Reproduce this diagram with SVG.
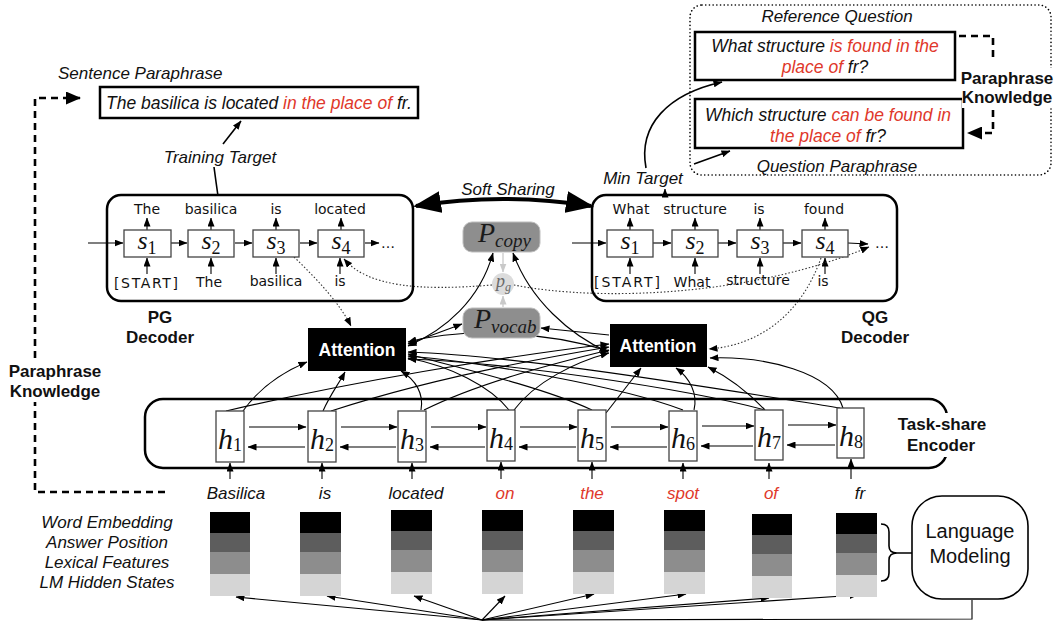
<svg xmlns="http://www.w3.org/2000/svg" width="1056" height="626" viewBox="0 0 1056 626">
<defs>
<marker id="ah" markerUnits="userSpaceOnUse" markerWidth="9" markerHeight="7" refX="8.5" refY="3.5" orient="auto-start-reverse"><path d="M0,0 L9,3.5 L0,7 z" fill="#000"/></marker>
<marker id="ahg" markerUnits="userSpaceOnUse" markerWidth="9" markerHeight="7" refX="8.5" refY="3.5" orient="auto-start-reverse"><path d="M0,0 L9,3.5 L0,7 z" fill="#c9c9c9"/></marker>
<marker id="ahb" markerUnits="userSpaceOnUse" markerWidth="28" markerHeight="22" refX="25" refY="11" orient="auto-start-reverse"><path d="M0,0 L28,11 L0,22 z" fill="#000"/></marker>
<marker id="ahd" markerUnits="userSpaceOnUse" markerWidth="15" markerHeight="13" refX="14" refY="6.5" orient="auto-start-reverse"><path d="M0,0 L15,6.5 L0,13 z" fill="#000"/></marker>
</defs>
<style>
.it{font-family:"Liberation Sans",Arial,sans-serif;font-style:italic;font-size:17px;fill:#111}
.bd{font-family:"Liberation Sans",Arial,sans-serif;font-weight:bold;font-size:17px;fill:#111;text-anchor:middle}
.red{fill:#e0382b}
.cw{font-family:"DejaVu Sans",sans-serif;font-size:14px;fill:#111;text-anchor:middle}
.m{font-family:"Liberation Serif",serif;font-style:italic;font-size:26px;fill:#111;text-anchor:middle}
.sub{font-style:normal;font-size:18px}
.cell{fill:#fff;stroke:#444;stroke-width:1.3}
.ln{fill:none;stroke:#000;stroke-width:1.1}
.arr{marker-end:url(#ah)}
.dot{fill:none;stroke:#333;stroke-width:1.1;stroke-dasharray:1.5,2}
.dash{fill:none;stroke:#000;stroke-width:2.6;stroke-dasharray:7,5}
.frame{fill:none;stroke:#000;stroke-width:2.5}
.att{fill:#000}
.attt{font-family:"Liberation Sans",Arial,sans-serif;font-weight:bold;font-size:17.5px;fill:#fff;text-anchor:middle}
.gp{fill:#8e8e8e;stroke:#bdbdbd;stroke-width:1}
.c1{fill:#000}.c2{fill:#5d5d5d}.c3{fill:#8d8d8d}.c4{fill:#d5d5d5}
</style>
<rect width="1056" height="626" fill="#fff"/>

<!-- connectors -->
<g id="connectors">
  <path class="dash" d="M165,492 L35,492 L35,98 L80,98" marker-end="url(#ahd)"/>
  <path class="dash" d="M959,36 L993,36 L993,62"/>
  <path class="dash" d="M993,110 L993,133 L968,133" marker-end="url(#ahd)"/>
  <path class="ln" style="stroke-width:1.6" d="M223,144 L241,121" marker-end="url(#ah)"/>
  <path class="ln" style="stroke-width:1.6" d="M214,167 Q216,182 218,196"/>
  <path class="ln" style="stroke-width:1.6" d="M646,168 C638,125 668,94 722,82" marker-end="url(#ah)"/>
  <path class="ln" style="stroke-width:1.6" d="M694,164 L730,151" marker-end="url(#ah)"/>
  <path class="ln" d="M665,195 L665,189" marker-end="url(#ah)"/>
  <path fill="none" stroke="#000" stroke-width="4" d="M416,206 Q503,192 591,206" marker-start="url(#ahb)" marker-end="url(#ahb)"/>

  <path class="ln arr" d="M88,243 L123,243"/>
  <path class="ln arr" d="M171,243 L187,243"/>
  <path class="ln arr" d="M235,243 L252,243"/>
  <path class="ln arr" d="M300,243 L317,243"/>
  <path class="ln arr" d="M365,243 L379,243"/>
  <path class="ln arr" d="M147,230 L147,218"/>
  <path class="ln arr" d="M211,230 L211,218"/>
  <path class="ln arr" d="M276,230 L276,218"/>
  <path class="ln arr" d="M341,230 L341,218"/>
  <path class="ln arr" d="M147,274 L147,258"/>
  <path class="ln arr" d="M211,274 L211,258"/>
  <path class="ln arr" d="M276,274 L276,258"/>
  <path class="ln arr" d="M340,274 L340,258"/>
  <path class="ln arr" d="M572,243 L606,243"/>
  <path class="ln arr" d="M653,243 L671,243"/>
  <path class="ln arr" d="M718,243 L736,243"/>
  <path class="ln arr" d="M783,243 L801,243"/>
  <path class="ln arr" d="M848,243 L868,244"/>
  <path class="ln arr" d="M630,230 L630,218"/>
  <path class="ln arr" d="M695,230 L695,218"/>
  <path class="ln arr" d="M760,230 L760,218"/>
  <path class="ln arr" d="M825,230 L825,218"/>
  <path class="ln arr" d="M630,274 L630,258"/>
  <path class="ln arr" d="M695,274 L695,258"/>
  <path class="ln arr" d="M760,274 L760,258"/>
  <path class="ln arr" d="M825,274 L825,258"/>

  <path class="dot" d="M294,257 C318,280 340,304 351,326" marker-end="url(#ah)"/>
  <path class="dot" d="M821,258 C802,312 762,345 709,349" marker-end="url(#ah)"/>
  <path class="dot" d="M492,285 C420,291 368,287 344,259" marker-end="url(#ah)"/>
  <path class="dot" d="M514,285 C600,302 752,296 869,247" marker-end="url(#ah)"/>

  <path fill="none" stroke="#c9c9c9" stroke-width="1.3" d="M503,253 L503,272" marker-end="url(#ahg)"/>
  <path fill="none" stroke="#c9c9c9" stroke-width="1.3" d="M503,307 L503,296" marker-end="url(#ahg)"/>

  <path class="ln" d="M408,344 L462,324" marker-start="url(#ah)" marker-end="url(#ah)"/>
  <path class="ln arr" d="M609,335 L541,328"/>
  <path class="ln" d="M408,346 C445,330 480,300 493,253" marker-start="url(#ah)" marker-end="url(#ah)"/>
  <path class="ln" d="M608,352 C570,335 530,300 513,253" marker-start="url(#ah)" marker-end="url(#ah)"/>
  <path class="ln arr" d="M609,351 C540,330 460,328 408,342"/>

  <path class="ln arr" d="M243,411 C260,387 283,372 307,362"/>
  <path class="ln arr" d="M226,411 C350,382 500,357 609,344"/>
  <path class="ln arr" d="M323,411 C330,395 338,385 345,372"/>
  <path class="ln arr" d="M331,411 C420,382 530,360 609,347"/>
  <path class="ln arr" d="M421,410 C424,394 416,380 401,371"/>
  <path class="ln arr" d="M424,410 C480,382 560,362 609,350"/>
  <path class="ln arr" d="M509,410 C490,386 450,366 408,358"/>
  <path class="ln arr" d="M514,410 C535,382 575,362 609,353"/>
  <path class="ln arr" d="M592,410 C540,386 452,366 408,354"/>
  <path class="ln arr" d="M606,413 L641,368"/>
  <path class="ln arr" d="M683,410 C620,386 480,362 408,356"/>
  <path class="ln arr" d="M694,410 C698,394 690,378 676,368"/>
  <path class="ln arr" d="M765,410 C680,387 500,362 408,359"/>
  <path class="ln arr" d="M765,410 C748,392 728,377 708,367"/>
  <path class="ln arr" d="M840,408 C700,386 520,356 408,352"/>
  <path class="ln arr" d="M843,408 C832,372 765,356 710,358"/>

  <path class="ln arr" d="M249,427 L306,427"/>
  <path class="ln arr" d="M305,447 L248,447"/>
  <path class="ln arr" d="M341,427 L397,427"/>
  <path class="ln arr" d="M396,447 L340,447"/>
  <path class="ln arr" d="M431,427 L486,427"/>
  <path class="ln arr" d="M485,447 L430,447"/>
  <path class="ln arr" d="M520,427 L577,427"/>
  <path class="ln arr" d="M576,447 L519,447"/>
  <path class="ln arr" d="M611,427 L668,427"/>
  <path class="ln arr" d="M667,447 L610,447"/>
  <path class="ln arr" d="M702,426 L754,426"/>
  <path class="ln arr" d="M753,446 L701,446"/>
  <path class="ln arr" d="M788,425 L836,425"/>
  <path class="ln arr" d="M835,445 L787,445"/>

  <path class="ln arr" d="M230,479 L230,463"/>
  <path class="ln arr" d="M322,479 L322,463"/>
  <path class="ln arr" d="M412,479 L412,463"/>
  <path class="ln arr" d="M501,479 L501,462"/>
  <path class="ln arr" d="M592,479 L592,462"/>
  <path class="ln arr" d="M683,479 L683,463"/>
  <path class="ln arr" d="M769,479 L769,463"/>
  <path class="ln arr" d="M851,479 L851,459"/>

  <path class="ln" d="M972,600 L972,619 L482,620"/>
  <path class="ln arr" d="M482,620 L236,597"/>
  <path class="ln arr" d="M482,620 L327,596"/>
  <path class="ln arr" d="M482,620 L414,596"/>
  <path class="ln arr" d="M482,620 L505,596"/>
  <path class="ln arr" d="M482,620 L594,594"/>
  <path class="ln arr" d="M482,620 L686,594"/>
  <path class="ln arr" d="M482,620 L769,598"/>
  <path class="ln arr" d="M482,620 L858,595"/>
  <path class="ln" style="stroke-width:1.6" d="M881,524 Q889,524 889,532 L889,546 Q889,553 897,553 Q889,553 889,560 L889,573 Q889,581 881,581 M897,553 L912,553"/>
</g>

<g id="sentence-paraphrase">
  <text class="it" x="58" y="79">Sentence Paraphrase</text>
  <rect class="frame" x="100" y="87" width="318" height="31"/>
  <text class="it" x="106" y="109" style="font-size:17.5px">The basilica is located <tspan class="red">in the place of</tspan> fr.</text>
</g>
<g id="training-target"><text class="it" x="220" y="163" text-anchor="middle">Training Target</text></g>
<g id="min-target"><text class="it" x="643" y="184" text-anchor="middle">Min Target</text></g>
<g id="soft-sharing"><text class="it" x="508" y="195" text-anchor="middle">Soft Sharing</text></g>

<g id="left-knowledge">
  <rect x="8" y="360" width="96" height="42" fill="#fff"/>
  <text class="bd" x="55" y="377">Paraphrase</text>
  <text class="bd" x="55" y="397">Knowledge</text>
</g>

<g id="reference-group">
  <rect x="690" y="5" width="361" height="170" rx="12" fill="none" stroke="#000" stroke-width="1.6" stroke-dasharray="0.1,3.6" stroke-linecap="round"/>
  <text class="it" x="837" y="22" text-anchor="middle">Reference Question</text>
  <text class="it" x="837" y="172" text-anchor="middle">Question Paraphrase</text>
</g>
<g id="reference-question">
  <rect class="frame" x="695" y="32" width="260" height="48"/>
  <text class="it" x="825" y="52" text-anchor="middle" style="font-size:17.5px">What structure <tspan class="red">is found in the</tspan></text>
  <text class="it" x="825" y="73" text-anchor="middle" style="font-size:17.5px"><tspan class="red">place of</tspan> fr?</text>
</g>
<g id="question-paraphrase">
  <rect class="frame" x="695" y="99" width="268" height="49"/>
  <text class="it" x="828" y="121" text-anchor="middle" style="font-size:17.5px">Which structure <tspan class="red">can be found in</tspan></text>
  <text class="it" x="828" y="142" text-anchor="middle" style="font-size:17.5px"><tspan class="red">the place of</tspan> fr?</text>
</g>
<g id="right-knowledge">
  <rect x="962" y="68" width="93" height="40" fill="#fff"/>
  <text class="bd" x="1007" y="84">Paraphrase</text>
  <text class="bd" x="1007" y="103">Knowledge</text>
</g>

<g id="pg-decoder">
  <rect class="frame" x="107" y="195" width="306" height="106" rx="14" fill="none"/>
  <rect class="cell" x="124" y="230" width="47" height="27"/>
  <rect class="cell" x="188" y="230" width="46" height="27"/>
  <rect class="cell" x="253" y="230" width="46" height="27"/>
  <rect class="cell" x="318" y="230" width="46" height="27"/>
  <text class="m" x="147" y="249">s<tspan class="sub" dy="5">1</tspan></text>
  <text class="m" x="211" y="249">s<tspan class="sub" dy="5">2</tspan></text>
  <text class="m" x="276" y="249">s<tspan class="sub" dy="5">3</tspan></text>
  <text class="m" x="341" y="249">s<tspan class="sub" dy="5">4</tspan></text>
  <text class="cw" x="388" y="248">…</text>
  <text class="cw" x="147" y="214">The</text>
  <text class="cw" x="211" y="214">basilica</text>
  <text class="cw" x="276" y="214">is</text>
  <text class="cw" x="340" y="214">located</text>
  <text class="cw" x="146" y="288" textLength="64">[START]</text>
  <text class="cw" x="209" y="287">The</text>
  <text class="cw" x="276" y="286">basilica</text>
  <text class="cw" x="340" y="286">is</text>
  <text class="bd" x="160" y="323">PG</text>
  <text class="bd" x="160" y="343">Decoder</text>
</g>

<g id="qg-decoder">
  <rect class="frame" x="592" y="195" width="305" height="106" rx="14" fill="none"/>
  <rect class="cell" x="607" y="230" width="46" height="27"/>
  <rect class="cell" x="672" y="230" width="46" height="27"/>
  <rect class="cell" x="737" y="230" width="46" height="27"/>
  <rect class="cell" x="802" y="230" width="46" height="27"/>
  <text class="m" x="630" y="249">s<tspan class="sub" dy="5">1</tspan></text>
  <text class="m" x="695" y="249">s<tspan class="sub" dy="5">2</tspan></text>
  <text class="m" x="760" y="249">s<tspan class="sub" dy="5">3</tspan></text>
  <text class="m" x="825" y="249">s<tspan class="sub" dy="5">4</tspan></text>
  <text class="cw" x="882" y="248">…</text>
  <text class="cw" x="631" y="214">What</text>
  <text class="cw" x="695" y="214">structure</text>
  <text class="cw" x="759" y="214">is</text>
  <text class="cw" x="824" y="214">found</text>
  <text class="cw" x="627" y="287" textLength="66">[START]</text>
  <text class="cw" x="692" y="287">What</text>
  <text class="cw" x="758" y="285">structure</text>
  <text class="cw" x="823" y="286">is</text>
  <text class="bd" x="875" y="323">QG</text>
  <text class="bd" x="875" y="343">Decoder</text>
</g>

<g id="p-copy">
  <rect class="gp" x="463" y="222" width="77" height="30" rx="9"/>
  <text x="478" y="242" style="font-family:'Liberation Serif',serif;font-style:italic;font-size:28px;fill:#1a1a1a">P<tspan dy="5" style="font-size:19px">copy</tspan></text>
</g>
<g id="p-g">
  <circle cx="503" cy="284" r="11" fill="#dcdcdc"/>
  <text x="496" y="287" style="font-family:'Liberation Serif',serif;font-style:italic;font-size:18px;fill:#6a6a6a">p<tspan dy="4" style="font-size:12px">g</tspan></text>
</g>
<g id="p-vocab">
  <rect class="gp" x="463" y="308" width="77" height="30" rx="9"/>
  <text x="474" y="328" style="font-family:'Liberation Serif',serif;font-style:italic;font-size:28px;fill:#1a1a1a">P<tspan dy="5" style="font-size:19px">vocab</tspan></text>
</g>

<g id="attention-pg">
  <rect class="att" x="308" y="328" width="98" height="43"/>
  <text class="attt" x="357" y="356">Attention</text>
</g>
<g id="attention-qg">
  <rect class="att" x="610" y="324" width="97" height="43"/>
  <text class="attt" x="658" y="352">Attention</text>
</g>

<g id="encoder">
  <rect class="frame" x="145" y="399" width="802" height="69" rx="18" fill="none"/>
  <rect x="890" y="413" width="106" height="44" fill="#fff"/>
  <text class="bd" x="942" y="430">Task-share</text>
  <text class="bd" x="941" y="451">Encoder</text>
  <rect class="cell" x="216" y="411" width="28" height="51"/>
  <rect class="cell" x="308" y="411" width="28" height="51"/>
  <rect class="cell" x="398" y="411" width="28" height="51"/>
  <rect class="cell" x="487" y="410" width="28" height="51"/>
  <rect class="cell" x="578" y="410" width="28" height="51"/>
  <rect class="cell" x="669" y="411" width="28" height="50"/>
  <rect class="cell" x="755" y="410" width="28" height="50"/>
  <rect class="cell" x="837" y="408" width="27" height="50"/>
  <text class="m" x="230" y="449" style="font-size:30px">h<tspan class="sub" dy="2">1</tspan></text>
  <text class="m" x="322" y="449" style="font-size:30px">h<tspan class="sub" dy="2">2</tspan></text>
  <text class="m" x="412" y="449" style="font-size:30px">h<tspan class="sub" dy="2">3</tspan></text>
  <text class="m" x="501" y="448" style="font-size:30px">h<tspan class="sub" dy="2">4</tspan></text>
  <text class="m" x="592" y="448" style="font-size:30px">h<tspan class="sub" dy="2">5</tspan></text>
  <text class="m" x="683" y="448" style="font-size:30px">h<tspan class="sub" dy="2">6</tspan></text>
  <text class="m" x="769" y="447" style="font-size:30px">h<tspan class="sub" dy="2">7</tspan></text>
  <text class="m" x="851" y="446" style="font-size:30px">h<tspan class="sub" dy="2">8</tspan></text>
</g>

<g id="words">
  <text class="it" x="236" y="499" text-anchor="middle">Basilica</text>
  <text class="it" x="325" y="499" text-anchor="middle">is</text>
  <text class="it" x="416" y="499" text-anchor="middle">located</text>
  <text class="it red" x="505" y="499" text-anchor="middle">on</text>
  <text class="it red" x="592" y="499" text-anchor="middle">the</text>
  <text class="it red" x="683" y="499" text-anchor="middle">spot</text>
  <text class="it red" x="771" y="499" text-anchor="middle">of</text>
  <text class="it" x="860" y="499" text-anchor="middle">fr</text>
</g>

<g id="feature-labels">
  <text class="it" x="107" y="528" text-anchor="middle">Word Embedding</text>
  <text class="it" x="107" y="548" text-anchor="middle">Answer Position</text>
  <text class="it" x="107" y="568" text-anchor="middle">Lexical Features</text>
  <text class="it" x="107" y="588" text-anchor="middle">LM Hidden States</text>
</g>

<g id="embeddings">
  <g transform="translate(210,512)"><rect class="c1" width="40" height="21"/><rect class="c2" y="21" width="40" height="19"/><rect class="c3" y="40" width="40" height="22"/><rect class="c4" y="62" width="40" height="22"/></g>
  <g transform="translate(300,512)"><rect class="c1" width="41" height="21"/><rect class="c2" y="21" width="41" height="19"/><rect class="c3" y="40" width="41" height="22"/><rect class="c4" y="62" width="41" height="22"/></g>
  <g transform="translate(391,510)"><rect class="c1" width="41" height="21"/><rect class="c2" y="21" width="41" height="19"/><rect class="c3" y="40" width="41" height="22"/><rect class="c4" y="62" width="41" height="22"/></g>
  <g transform="translate(482,510)"><rect class="c1" width="41" height="21"/><rect class="c2" y="21" width="41" height="19"/><rect class="c3" y="40" width="41" height="22"/><rect class="c4" y="62" width="41" height="22"/></g>
  <g transform="translate(573,510)"><rect class="c1" width="41" height="21"/><rect class="c2" y="21" width="41" height="19"/><rect class="c3" y="40" width="41" height="22"/><rect class="c4" y="62" width="41" height="22"/></g>
  <g transform="translate(664,510)"><rect class="c1" width="41" height="21"/><rect class="c2" y="21" width="41" height="19"/><rect class="c3" y="40" width="41" height="22"/><rect class="c4" y="62" width="41" height="22"/></g>
  <g transform="translate(752,514)"><rect class="c1" width="40" height="21"/><rect class="c2" y="21" width="40" height="19"/><rect class="c3" y="40" width="40" height="22"/><rect class="c4" y="62" width="40" height="22"/></g>
  <g transform="translate(836,513)"><rect class="c1" width="41" height="21"/><rect class="c2" y="21" width="41" height="19"/><rect class="c3" y="40" width="41" height="22"/><rect class="c4" y="62" width="41" height="22"/></g>
</g>

<g id="language-modeling">
  <rect x="912" y="496" width="116" height="103" rx="30" fill="#fff" stroke="#000" stroke-width="1.6"/>
  <text x="970" y="538" text-anchor="middle" style="font-family:'Liberation Sans',Arial,sans-serif;font-size:20px;fill:#111">Language</text>
  <text x="970" y="563" text-anchor="middle" style="font-family:'Liberation Sans',Arial,sans-serif;font-size:20px;fill:#111">Modeling</text>
</g>
</svg>
